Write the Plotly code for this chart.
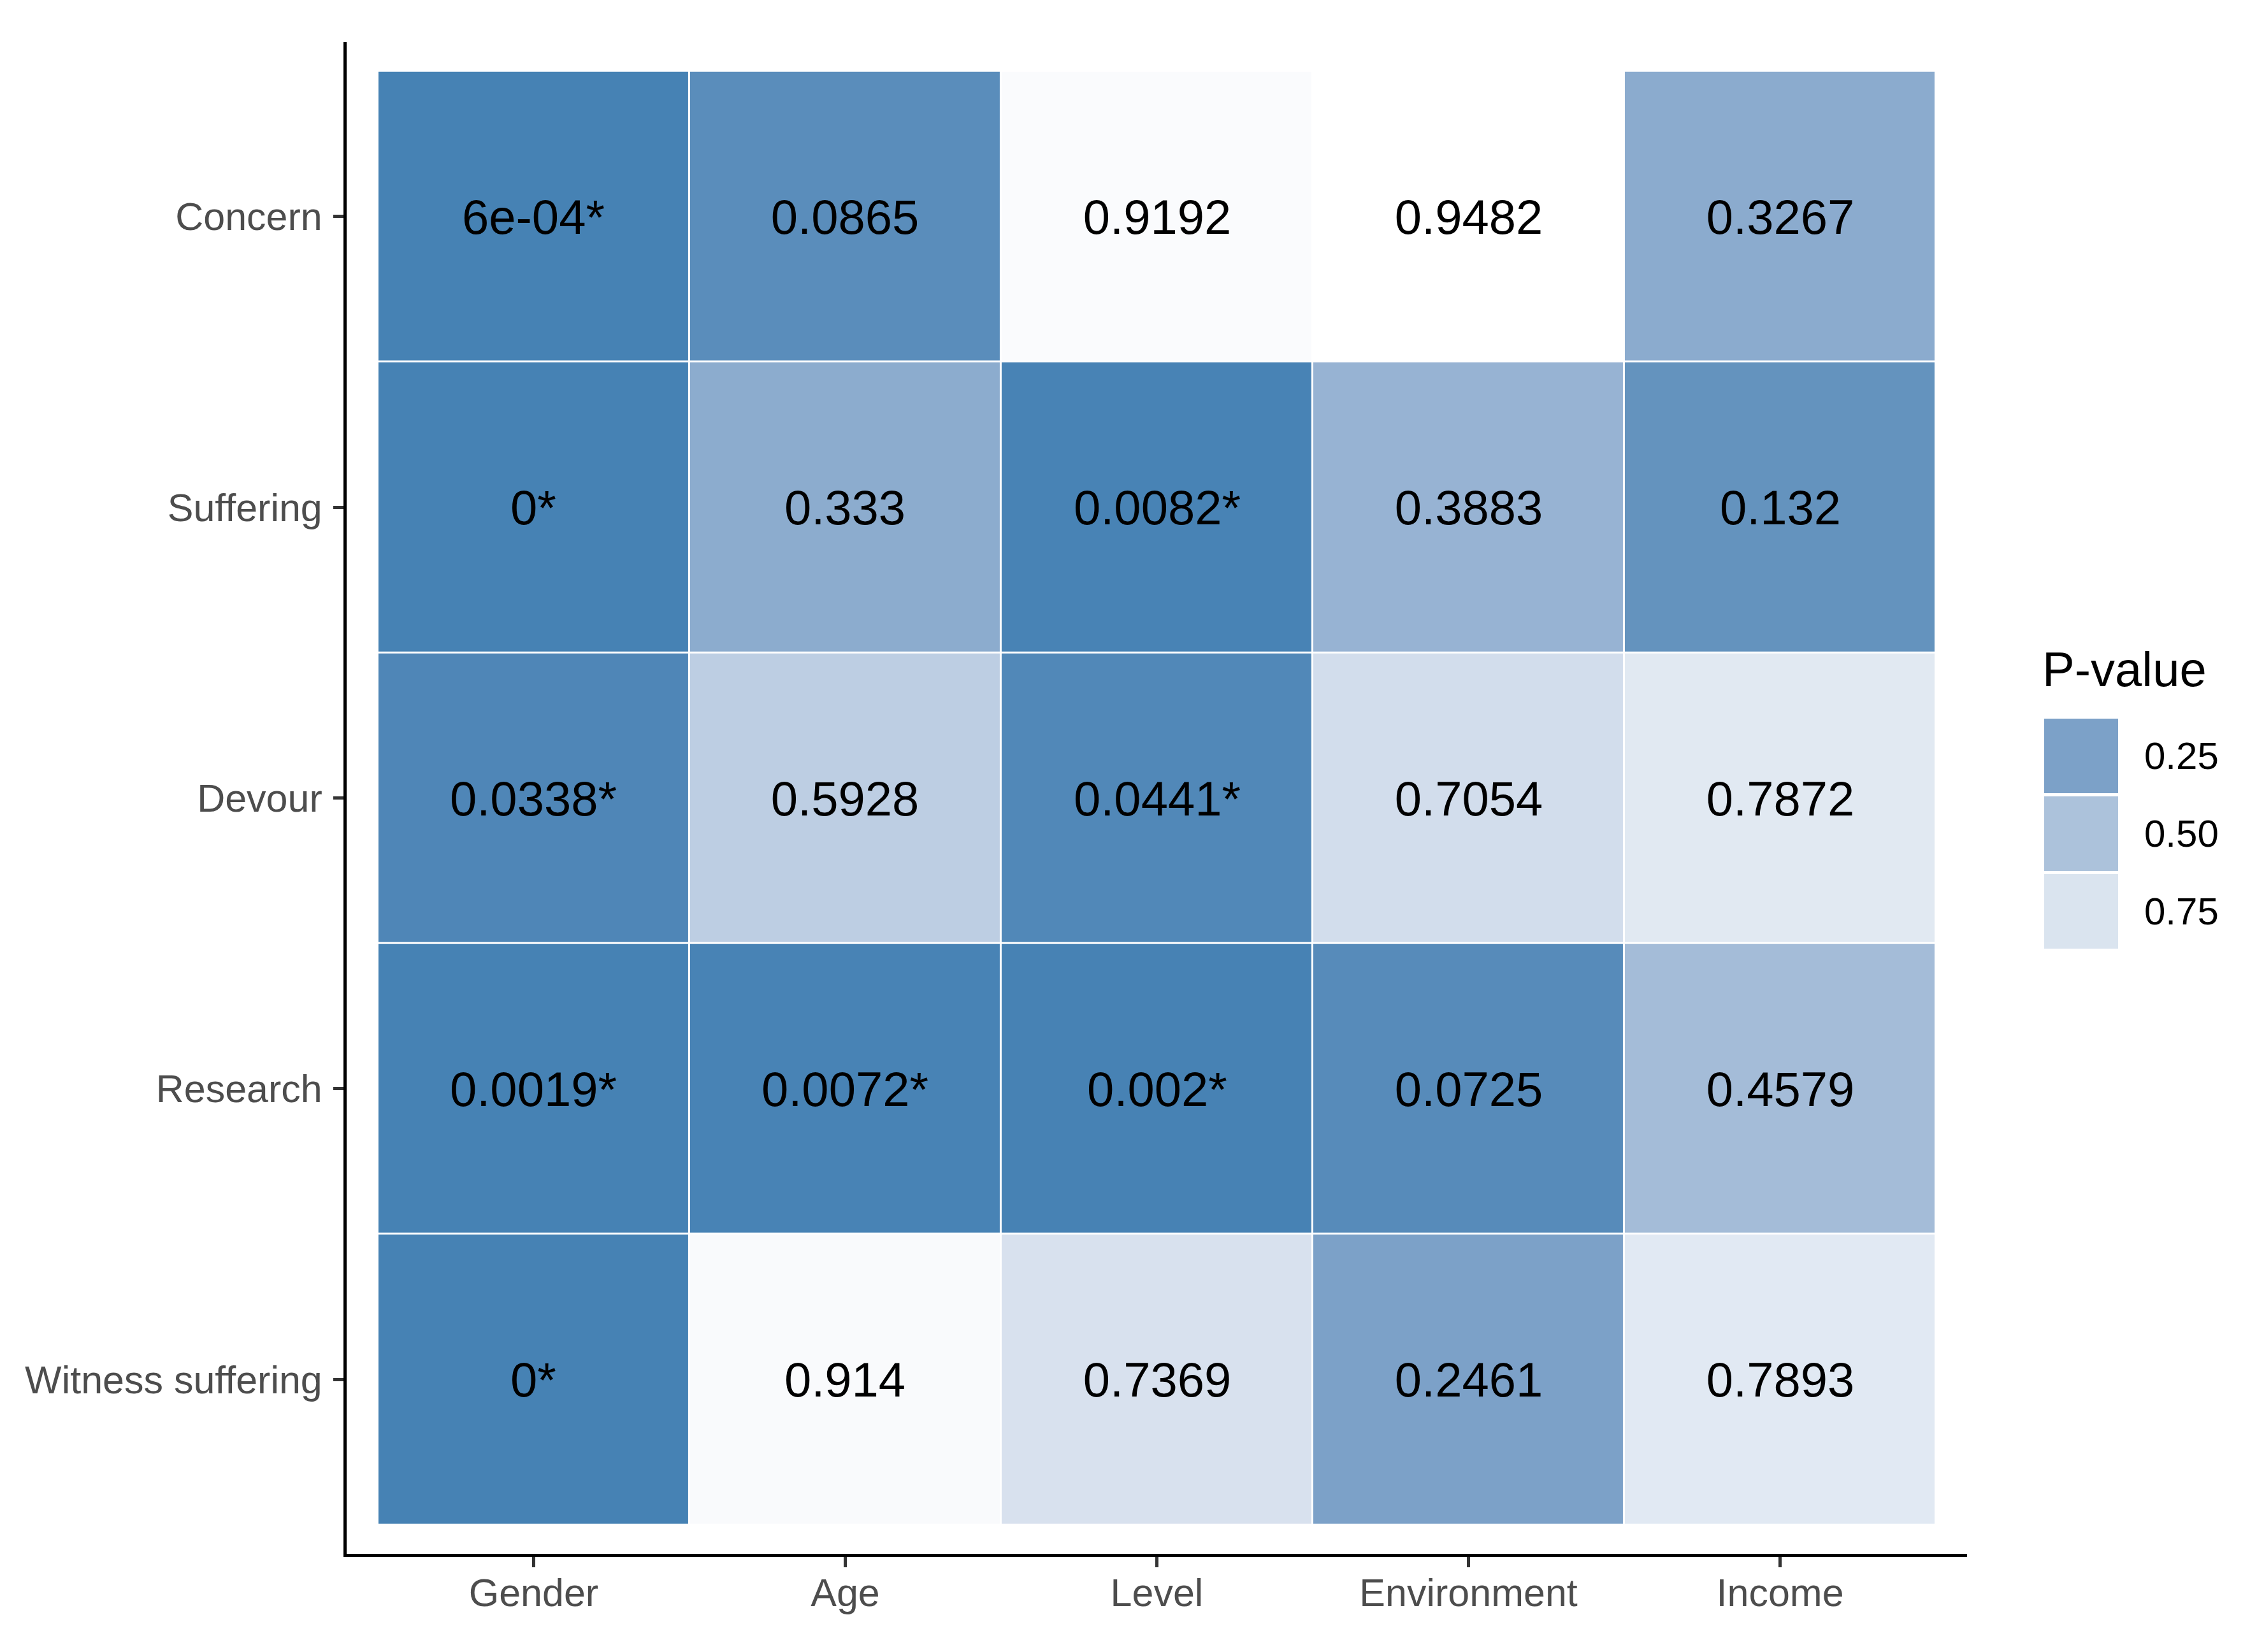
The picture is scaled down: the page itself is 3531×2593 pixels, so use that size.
import plotly.graph_objects as go

# ---------------- data ----------------
columns = ["Gender", "Age", "Level", "Environment", "Income"]
rows = ["Concern", "Suffering", "Devour", "Research", "Witness suffering"]

p_concern = [0.0006, 0.0865, 0.9192, 0.9482, 0.3267]
p_suffering = [0.0, 0.333, 0.0082, 0.3883, 0.132]
p_devour = [0.0338, 0.5928, 0.0441, 0.7054, 0.7872]
p_research = [0.0019, 0.0072, 0.002, 0.0725, 0.4579]
p_witness = [0.0, 0.914, 0.7369, 0.2461, 0.7893]

lab_concern = ["6e-04*", "0.0865", "0.9192", "0.9482", "0.3267"]
lab_suffering = ["0*", "0.333", "0.0082*", "0.3883", "0.132"]
lab_devour = ["0.0338*", "0.5928", "0.0441*", "0.7054", "0.7872"]
lab_research = ["0.0019*", "0.0072*", "0.002*", "0.0725", "0.4579"]
lab_witness = ["0*", "0.914", "0.7369", "0.2461", "0.7893"]

legend_breaks = [0.25, 0.50, 0.75]
legend_labels = ["0.25", "0.50", "0.75"]
legend_title = "P-value"

z = [p_concern, p_suffering, p_devour, p_research, p_witness]
text = [lab_concern, lab_suffering, lab_devour, lab_research, lab_witness]

# ---------------- colour scale (Lab interpolation, like ggplot2) ----------------
LOW = (70, 130, 180)   # steelblue
HIGH = (255, 255, 255)  # white
WHITE_REF = (0.95047, 1.0, 1.08883)


def _lin(c):
    c = c / 255.0
    return c / 12.92 if c <= 0.04045 else ((c + 0.055) / 1.055) ** 2.4


def _gam(c):
    c = 12.92 * c if c <= 0.0031308 else 1.055 * c ** (1 / 2.4) - 0.055
    return max(0, min(255, round(c * 255)))


def rgb_to_lab(rgb):
    r, g, b = (_lin(v) for v in rgb)
    x = 0.4124564 * r + 0.3575761 * g + 0.1804375 * b
    y = 0.2126729 * r + 0.7151522 * g + 0.0721750 * b
    zz = 0.0193339 * r + 0.1191920 * g + 0.9503041 * b
    def f(t):
        return t ** (1 / 3) if t > 216 / 24389 else (24389 / 27 * t + 16) / 116
    fx, fy, fz = f(x / WHITE_REF[0]), f(y / WHITE_REF[1]), f(zz / WHITE_REF[2])
    return (116 * fy - 16, 500 * (fx - fy), 200 * (fy - fz))


def lab_to_rgb(lab):
    L, a, b = lab
    fy = (L + 16) / 116
    fx = fy + a / 500
    fz = fy - b / 200
    def finv(t):
        return t ** 3 if t ** 3 > 216 / 24389 else (116 * t - 16) / (24389 / 27)
    x, y, zz = finv(fx) * WHITE_REF[0], finv(fy) * WHITE_REF[1], finv(fz) * WHITE_REF[2]
    r = 3.2404542 * x - 1.5371385 * y - 0.4985314 * zz
    g = -0.9692660 * x + 1.8760108 * y + 0.0415560 * zz
    bb = 0.0556434 * x - 0.2040259 * y + 1.0572252 * zz
    return tuple(_gam(v) for v in (r, g, bb))


LAB_LOW, LAB_HIGH = rgb_to_lab(LOW), rgb_to_lab(HIGH)


def colour_at(t):
    t = max(0.0, min(1.0, t))
    lab = tuple(lo + (hi - lo) * t for lo, hi in zip(LAB_LOW, LAB_HIGH))
    r, g, b = lab_to_rgb(lab)
    return f"rgb({r},{g},{b})"


NSTOP = 40
colorscale = [[i / NSTOP, colour_at(i / NSTOP)] for i in range(NSTOP + 1)]

all_vals = [v for r in z for v in r]
zmin, zmax = min(all_vals), max(all_vals)

# ---------------- figure ----------------
# page coordinates of the plot area (the page body has an 8px default margin)
OFF = 8
W, H = 3531 - 2 * OFF, 2593 - 2 * OFF
L_PX, R_PX, T_PX, B_PX = 544, 3087, 66, 2439
FONT = "Liberation Sans, Arial, sans-serif"

fig = go.Figure(
    go.Heatmap(
        z=z,
        x=columns,
        y=rows,
        text=text,
        texttemplate="%{text}",
        textfont=dict(family=FONT, size=76, color="black"),
        colorscale=colorscale,
        zmin=zmin,
        zmax=zmax,
        showscale=False,
        xgap=3,
        ygap=3,
        hoverinfo="skip",
    )
)


def px_x(px):
    return (px - L_PX) / (R_PX - L_PX)


def px_y(py):
    return (B_PX - py) / (B_PX - T_PX)


shapes = []
annotations = []
key_x0, key_x1 = 3208, 3324
key_tops = [1128, 1250, 1372]
key_h = 117
for brk, lab, top in zip(legend_breaks, legend_labels, key_tops):
    shapes.append(dict(
        type="rect", xref="paper", yref="paper",
        x0=px_x(key_x0), x1=px_x(key_x1), y0=px_y(top + key_h), y1=px_y(top),
        fillcolor=colour_at((brk - zmin) / (zmax - zmin)), line=dict(width=0), layer="above",
    ))
    annotations.append(dict(
        xref="paper", yref="paper", x=px_x(3363), y=px_y(top + key_h / 2),
        text=lab, showarrow=False, xanchor="left", yanchor="middle",
        font=dict(family=FONT, size=60, color="black"),
    ))
annotations.append(dict(
    xref="paper", yref="paper", x=px_x(3203), y=px_y(1050),
    text=legend_title, showarrow=False, xanchor="left", yanchor="middle",
    font=dict(family=FONT, size=76, color="black"),
))

axis_common = dict(
    showline=True, linecolor="black", linewidth=5,
    ticks="outside", ticklen=16, tickwidth=5, tickcolor="#333333",
    showgrid=False, zeroline=False,
    tickfont=dict(family=FONT, size=61, color="#4D4D4D"),
)

fig.update_layout(
    width=W, height=H,
    margin=dict(l=L_PX - OFF, r=W - (R_PX - OFF), t=T_PX - OFF, b=H - (B_PX - OFF), pad=0),
    paper_bgcolor="white", plot_bgcolor="white",
    xaxis=dict(range=[-0.6, 4.6], **axis_common, ticklabelstandoff=-12),
    yaxis=dict(range=[4.6, -0.6], **axis_common, ticklabelstandoff=5),
    shapes=shapes, annotations=annotations,
    font=dict(family=FONT),
)

fig.write_html("out.html")
